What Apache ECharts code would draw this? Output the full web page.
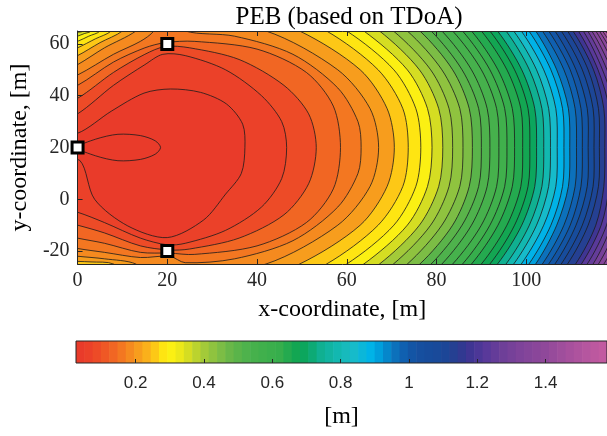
<!DOCTYPE html>
<html>
<head>
<meta charset="utf-8">
<title>PEB (based on TDoA)</title>
<script src="https://cdn.jsdelivr.net/npm/echarts@6/dist/echarts.min.js"></script>
<style>
html, body { margin: 0; padding: 0; background: #fff; }
#main { width: 607px; height: 436px; }
</style>
</head>
<body>
<div id="main"></div>
<script>
// axis ticks
var xTicks = [0, 20, 40, 60, 80, 100];
var yTicks = [-20, 0, 20, 40, 60];
var cbTicks = [0.2, 0.4, 0.6, 0.8, 1, 1.2, 1.4];

// anchor positions [m]
var anchors = [[0, 20], [20, 60], [20, -20]];

// PEB value [m] of the band just above each contour line
var bandAbove = [0.030, 0.050, 0.075, 0.130, 0.160, 0.185, 0.210, 0.255, 0.280, 0.300,
    0.365, 0.400, 0.435, 0.460, 0.490, 0.520, 0.550, 0.580, 0.610, 0.640,
    0.670, 0.700, 0.740, 0.790, 0.835, 0.885, 0.920, 0.950, 0.985, 1.020,
    1.060, 1.100, 1.140, 1.180, 1.220, 1.260, 1.300, 1.340, 1.380, 1.420,
    1.460, 1.500, 1.540, 1.580];

// levels 0..5, read as point lists (x, y) round the anchors
var innerPaths = [
    [[0, 20], [4, 23.2], [9, 25.1], [14, 24.6], [17.3, 22.6], [18.5, 20], [17.3, 17.4], [14, 15.4], [9, 14.9], [4, 16.8]],
    [[-5, 26], [0, 25.5], [7.5, 34], [14.8, 41], [20.7, 42.6], [27.4, 41.3], [33.2, 36.8], [36.8, 29], [37.3, 20],
        [36.5, 10], [33, 2], [28.1, -8], [20, -14.8], [11.2, -10.3], [3.8, 0], [0.5, 15], [-5, 15]],
    [[-5, 30], [0, 33], [8, 44], [15, 52], [19, 56], [24, 55.5], [33, 50], [41, 40], [45.5, 30], [46.6, 20],
        [45.5, 8], [41, -3], [33, -12], [24, -17], [20, -17.6], [14, -15], [6, -9], [0, -5], [-5, -3]],
    [[-5, 36], [0, 39], [8, 49], [15, 56], [19.5, 59], [25, 58.5], [36, 54], [46, 44], [51.5, 33], [53.2, 20],
        [51.5, 6], [46, -6], [36, -15], [25, -19.2], [20.5, -19.6], [14, -18], [6, -13], [0, -10], [-5, -8]],
    [[-5, 41], [0, 44], [8, 53], [15, 58.5], [19.5, 60.5], [26, 61], [40, 58], [51, 49], [57, 36], [58.6, 20],
        [57, 4], [51, -9], [40, -18], [26, -21.3], [20.5, -20.8], [14, -20.5], [6, -17], [0, -15], [-5, -13]],
    [[-5, 45], [0, 48], [8, 56], [14, 61], [17, 65], [18, 70], [22, 70], [24, 65], [35, 63], [48, 56], [58, 43],
        [62.5, 30], [63.2, 20], [62.5, 10], [58, -3], [48, -16], [35, -23], [24, -24.5], [20.5, -22],
        [14, -22.5], [6, -20.5], [0, -19], [-5, -17]]
];

// levels 6..11: pieces in the left corners (top: left edge -> top edge, bottom: bottom edge -> left edge)
var cornerTop = [
    [[-5, 48], [0, 52], [6, 58.5], [13, 65], [15, 70]],
    [[-5, 52], [0, 55.5], [5, 60.5], [10, 65], [12, 70]],
    [[-5, 55], [0, 58.5], [4, 62], [7.5, 65], [9, 70]],
    [[-5, 58], [0, 61], [2.5, 63], [5, 65], [6, 70]],
    [[-5, 60], [0, 63], [1.5, 64], [3, 65], [4, 70]],
    [[-5, 62], [0, 64.5], [1.2, 65], [2, 70]]
];
var cornerBottom = [
    [[15, -30], [13, -25], [6, -23], [0, -22], [-5, -21]],
    [[10, -30], [8, -25], [3, -24.2], [0, -24], [-5, -23.5]]
];

// levels 6..43: x where each arc crosses the rows below
var upperRows = [72, 65, 50, 35, 20];
var lowerRows = [5, -10, -25, -32];
var arcUpper = [
    [19.0, 42.0, 58.0, 65.2, 67.1], [36.5, 49.5, 63.0, 69.0, 70.6], [45.0, 55.5, 67.0, 72.5, 73.7],
    [51.0, 60.0, 70.5, 75.4, 76.5], [56.0, 63.8, 73.5, 78.0, 79.0], [60.0, 67.3, 76.2, 80.5, 81.4],
    [63.5, 70.4, 78.7, 82.8, 83.6], [67.0, 73.5, 81.2, 85.2, 85.9], [70.0, 76.3, 83.6, 87.3, 88.0],
    [73.0, 78.8, 85.7, 89.4, 90.0], [75.7, 81.2, 87.8, 91.3, 91.9], [78.3, 83.6, 90.0, 93.4, 93.9],
    [80.7, 85.8, 91.9, 95.2, 95.7], [82.9, 87.8, 93.7, 96.9, 97.4], [85.2, 90.0, 95.7, 98.8, 99.2],
    [87.2, 91.9, 97.4, 100.4, 100.8], [89.1, 93.6, 99.0, 101.9, 102.3], [91.1, 95.5, 100.7, 103.5, 103.9],
    [92.9, 97.2, 102.3, 105.0, 105.4], [94.8, 98.9, 103.9, 106.6, 106.9], [96.6, 100.6, 105.5, 108.1, 108.4],
    [98.1, 102.1, 106.8, 109.4, 109.7], [99.6, 103.6, 108.4, 110.9, 111.2], [101.0, 105.0, 109.8, 112.2, 112.5],
    [102.4, 106.4, 111.1, 113.6, 113.8], [103.8, 107.8, 112.5, 114.9, 115.1], [105.2, 109.2, 113.8, 116.1, 116.3],
    [106.4, 110.4, 115.0, 117.3, 117.5], [107.6, 111.6, 116.0, 118.5, 118.7], [108.7, 112.7, 117.0, 119.7, 119.9],
    [109.7, 113.7, 118.0, 120.8, 121.0], [110.6, 114.6, 119.0, 121.9, 122.1], [111.5, 115.5, 120.0, 123.0, 123.2],
    [112.3, 116.3, 121.0, 124.1, 124.3], [113.0, 117.0, 122.0, 125.2, 125.4], [113.7, 117.7, 123.0, 126.3, 126.5],
    [114.3, 118.3, 124.0, 127.4, 127.6], [114.9, 118.9, 125.0, 128.5, 128.7]
];
var arcLower = [
    [65.2, 58.0, 42.0, 19.0], [69.0, 63.0, 49.5, 36.5], [72.5, 67.0, 55.5, 45.0],
    [75.4, 70.5, 60.0, 51.0], [78.0, 73.5, 63.8, 56.0], [80.5, 76.2, 67.3, 60.0],
    [82.8, 78.7, 70.4, 63.5], [85.2, 81.2, 73.5, 67.0], [87.3, 83.6, 76.3, 70.0],
    [89.4, 85.7, 78.8, 73.0], [91.3, 87.8, 81.2, 75.7], [93.4, 90.0, 83.6, 78.3],
    [95.2, 91.9, 85.8, 80.7], [96.9, 93.7, 87.8, 82.9], [98.8, 95.7, 90.0, 85.2],
    [100.4, 97.4, 91.9, 87.2], [101.9, 99.0, 93.6, 89.1], [103.5, 100.7, 95.5, 91.1],
    [105.0, 102.3, 97.2, 92.9], [106.6, 103.9, 98.9, 94.8], [108.1, 105.5, 100.6, 96.6],
    [109.4, 106.8, 102.1, 98.1], [110.9, 108.4, 103.6, 99.6], [112.2, 109.8, 105.0, 101.0],
    [113.6, 111.1, 106.4, 102.4], [114.9, 112.5, 107.8, 103.8], [116.1, 113.8, 109.2, 105.2],
    [117.3, 115.5, 111.0, 107.0], [118.5, 116.7, 112.3, 108.3], [119.7, 117.9, 113.6, 109.6],
    [120.8, 119.0, 114.9, 110.9], [121.9, 120.2, 116.1, 112.1], [123.0, 121.4, 117.3, 113.3],
    [124.1, 122.5, 118.5, 114.5], [125.2, 123.6, 119.6, 115.6], [126.3, 124.7, 120.8, 116.8],
    [127.4, 125.8, 122.0, 118.0], [128.5, 126.9, 123.2, 119.2]
];

// colour map
var cmapStops = [
    [0.025, '#e8392a'], [0.05, '#ea3e2a'], [0.077, '#ec4628'], [0.10, '#ee5226'], [0.125, '#f06024'],
    [0.15, '#f27022'], [0.175, '#f48420'], [0.20, '#f6971e'], [0.225, '#f9aa1c'], [0.25, '#fcc018'],
    [0.272, '#fede12'], [0.296, '#fff212'], [0.32, '#f4ec16'], [0.346, '#dde01e'], [0.37, '#c3d62a'],
    [0.396, '#a8cc38'], [0.42, '#94c43e'], [0.445, '#80be44'], [0.47, '#6cb848'], [0.495, '#5cb44a'],
    [0.52, '#4fb24c'], [0.56, '#42b04c'], [0.62, '#36ae4c'], [0.67, '#12a652'], [0.70, '#0aa660'],
    [0.74, '#10b090'], [0.79, '#12b8b0'], [0.83, '#1abcc4'], [0.886, '#00b4e8'], [0.92, '#0098d8'],
    [0.95, '#0a78c0'], [0.985, '#1060b0'], [1.02, '#1550a0'], [1.10, '#1a4898'], [1.14, '#283e90'],
    [1.17, '#3a3492'], [1.22, '#55389a'], [1.27, '#6c3e98'], [1.33, '#80449a'], [1.40, '#90489a'],
    [1.45, '#a04e9c'], [1.50, '#b0549e'], [1.56, '#c05aa0'], [1.60, '#c85ca2']
];
var cbMin = 0.0253;
var cbMax = 1.58;
var cbBands = 64;

var xMax = 118;
var serif = 'Liberation Serif';
var sans = 'Liberation Sans';
var axisColor = '#262626';

function hexRgb(h) {
    return [parseInt(h.substr(1, 2), 16), parseInt(h.substr(3, 2), 16), parseInt(h.substr(5, 2), 16)];
}

function interpColor(v) {
    if (v <= cmapStops[0][0]) return cmapStops[0][1];
    for (var i = 1; i < cmapStops.length; i++) {
        if (v <= cmapStops[i][0]) {
            var a = cmapStops[i - 1], b = cmapStops[i];
            var t = (v - a[0]) / (b[0] - a[0]);
            var ca = hexRgb(a[1]), cb = hexRgb(b[1]);
            var c = ca.map(function (x, k) { return Math.round(x + (cb[k] - x) * t); });
            return 'rgb(' + c.join(',') + ')';
        }
    }
    return cmapStops[cmapStops.length - 1][1];
}

// colour of one of the 64 colour-bar bands
function bandColor(i) {
    return interpColor(cbMin + (i + 0.5) * (cbMax - cbMin) / cbBands);
}

function levelColor(v) {
    var i = Math.floor((v - cbMin) / (cbMax - cbMin) * cbBands);
    i = Math.max(0, Math.min(cbBands - 1, i));
    return bandColor(i);
}

// build the outline of the low side of each level
var paths = [];
innerPaths.forEach(function (p) { paths.push(p); });
arcUpper.forEach(function (row, k) {
    var j = k + 6;
    var pts = [];
    var low = arcLower[k];
    if (cornerTop[j - 6]) {
        cornerTop[j - 6].forEach(function (p) { pts.push(p); });
    } else {
        pts.push([-10, 80]);
    }
    row.forEach(function (x, r) { pts.push([x, upperRows[r]]); });
    low.forEach(function (x, r) { pts.push([x, lowerRows[r]]); });
    if (cornerBottom[j - 6]) {
        cornerBottom[j - 6].forEach(function (p) { pts.push(p); });
    } else {
        pts.push([-10, -40]);
    }
    paths.push(pts);
});

// region below line j takes the colour of the band under it
function fillFor(j) {
    return j === 0 ? levelColor(cbMin) : levelColor(bandAbove[j - 1]);
}

var drawOrder = [];
for (var j = paths.length - 1; j >= 0; j--) drawOrder.push([j]);

var cbData = [];
for (var b = 0; b < cbBands; b++) cbData.push([b]);

var chart = echarts.init(document.getElementById('main'));

var option = {
    animation: false,
    title: {
        text: 'PEB (based on TDoA)',
        left: 344,
        top: 0,
        textAlign: 'center',
        textStyle: { fontFamily: serif, fontSize: 25, fontWeight: 'normal', color: '#000' }
    },
    grid: [
        { left: 76, top: 31, right: -4, bottom: 172, show: true, borderWidth: 0,
            backgroundColor: levelColor(bandAbove[paths.length - 1]) },
        { left: 76, top: 341, right: -4, height: 22 }
    ],
    xAxis: [
        {
            gridIndex: 0, type: 'value', min: 0, max: xMax, position: 'bottom', z: 5,
            axisLine: { onZero: false, lineStyle: { color: axisColor, width: 1 } },
            axisTick: { inside: true, length: 5, customValues: xTicks, lineStyle: { color: axisColor } },
            axisLabel: { customValues: xTicks, color: axisColor, fontFamily: serif, fontSize: 20, margin: 7 },
            splitLine: { show: false },
            name: 'x-coordinate, [m]', nameLocation: 'middle', nameGap: 34,
            nameTextStyle: { fontFamily: serif, fontSize: 24, color: '#000' }
        },
        {
            gridIndex: 0, type: 'value', min: 0, max: xMax, position: 'top', z: 5,
            axisLine: { onZero: false, lineStyle: { color: axisColor, width: 1 } },
            axisTick: { inside: true, length: 5, customValues: xTicks, lineStyle: { color: axisColor } },
            axisLabel: { show: false },
            splitLine: { show: false }
        },
        {
            gridIndex: 1, type: 'value', min: cbMin, max: cbMax, position: 'bottom', z: 5,
            axisLine: { show: false, onZero: false },
            axisTick: { inside: true, length: 4, customValues: cbTicks, lineStyle: { color: axisColor } },
            axisLabel: { customValues: cbTicks, color: axisColor, fontFamily: sans, fontSize: 17, margin: 12 },
            splitLine: { show: false },
            name: '[m]', nameLocation: 'middle', nameGap: 42,
            nameTextStyle: { fontFamily: serif, fontSize: 24, color: '#000' }
        }
    ],
    yAxis: [
        {
            gridIndex: 0, type: 'value', min: -25, max: 65, position: 'left', z: 5,
            axisLine: { onZero: false, lineStyle: { color: axisColor, width: 1 } },
            axisTick: { inside: true, length: 5, customValues: yTicks, lineStyle: { color: axisColor } },
            axisLabel: { customValues: yTicks, color: axisColor, fontFamily: serif, fontSize: 20, margin: 8 },
            splitLine: { show: false },
            name: 'y-coordinate, [m]', nameLocation: 'middle', nameGap: 42, nameRotate: 90,
            nameTextStyle: { fontFamily: serif, fontSize: 24, color: '#000' }
        },
        {
            gridIndex: 0, type: 'value', min: -25, max: 65, position: 'right', z: 5,
            axisLine: { onZero: false, lineStyle: { color: axisColor, width: 1 } },
            axisTick: { show: false }, axisLabel: { show: false }, splitLine: { show: false }
        },
        { gridIndex: 1, type: 'value', min: 0, max: 1, show: false }
    ],
    series: [
        {
            type: 'custom',
            xAxisIndex: 0, yAxisIndex: 0,
            clip: true,
            silent: true,
            z: 2,
            data: drawOrder,
            renderItem: function (params, api) {
                var j = api.value(0);
                var pts = paths[j].map(function (p) { return api.coord(p); });
                return {
                    type: 'polygon',
                    shape: { points: pts, smooth: 0.3 },
                    style: { fill: fillFor(j), stroke: '#1c1c1c', lineWidth: 0.8 }
                };
            }
        },
        {
            type: 'scatter',
            xAxisIndex: 0, yAxisIndex: 0,
            clip: false,
            silent: true,
            z: 10,
            symbol: 'rect',
            symbolSize: 11,
            itemStyle: { color: '#ffffff', borderColor: '#000000', borderWidth: 3, opacity: 1 },
            data: anchors
        },
        {
            type: 'custom',
            xAxisIndex: 2, yAxisIndex: 2,
            silent: true,
            data: cbData,
            renderItem: function (params, api) {
                var i = api.value(0);
                var lo = cbMin + i * (cbMax - cbMin) / cbBands;
                var hi = cbMin + (i + 1) * (cbMax - cbMin) / cbBands;
                var p0 = api.coord([lo, 1]);
                var p1 = api.coord([hi, 0]);
                return {
                    type: 'rect',
                    shape: { x: p0[0], y: p0[1], width: p1[0] - p0[0] + 0.6, height: p1[1] - p0[1] },
                    style: { fill: bandColor(i) }
                };
            }
        },
        {
            type: 'custom',
            xAxisIndex: 2, yAxisIndex: 2,
            silent: true,
            z: 4,
            data: [[0]],
            renderItem: function (params, api) {
                var p0 = api.coord([cbMin, 1]);
                var p1 = api.coord([cbMax, 0]);
                return {
                    type: 'rect',
                    shape: { x: p0[0], y: p0[1], width: p1[0] - p0[0], height: p1[1] - p0[1] },
                    style: { fill: 'none', stroke: axisColor, lineWidth: 1 }
                };
            }
        }
    ]
};

chart.setOption(option);
window.addEventListener('resize', function () {
    chart.resize();
});
</script>
</body>
</html>
